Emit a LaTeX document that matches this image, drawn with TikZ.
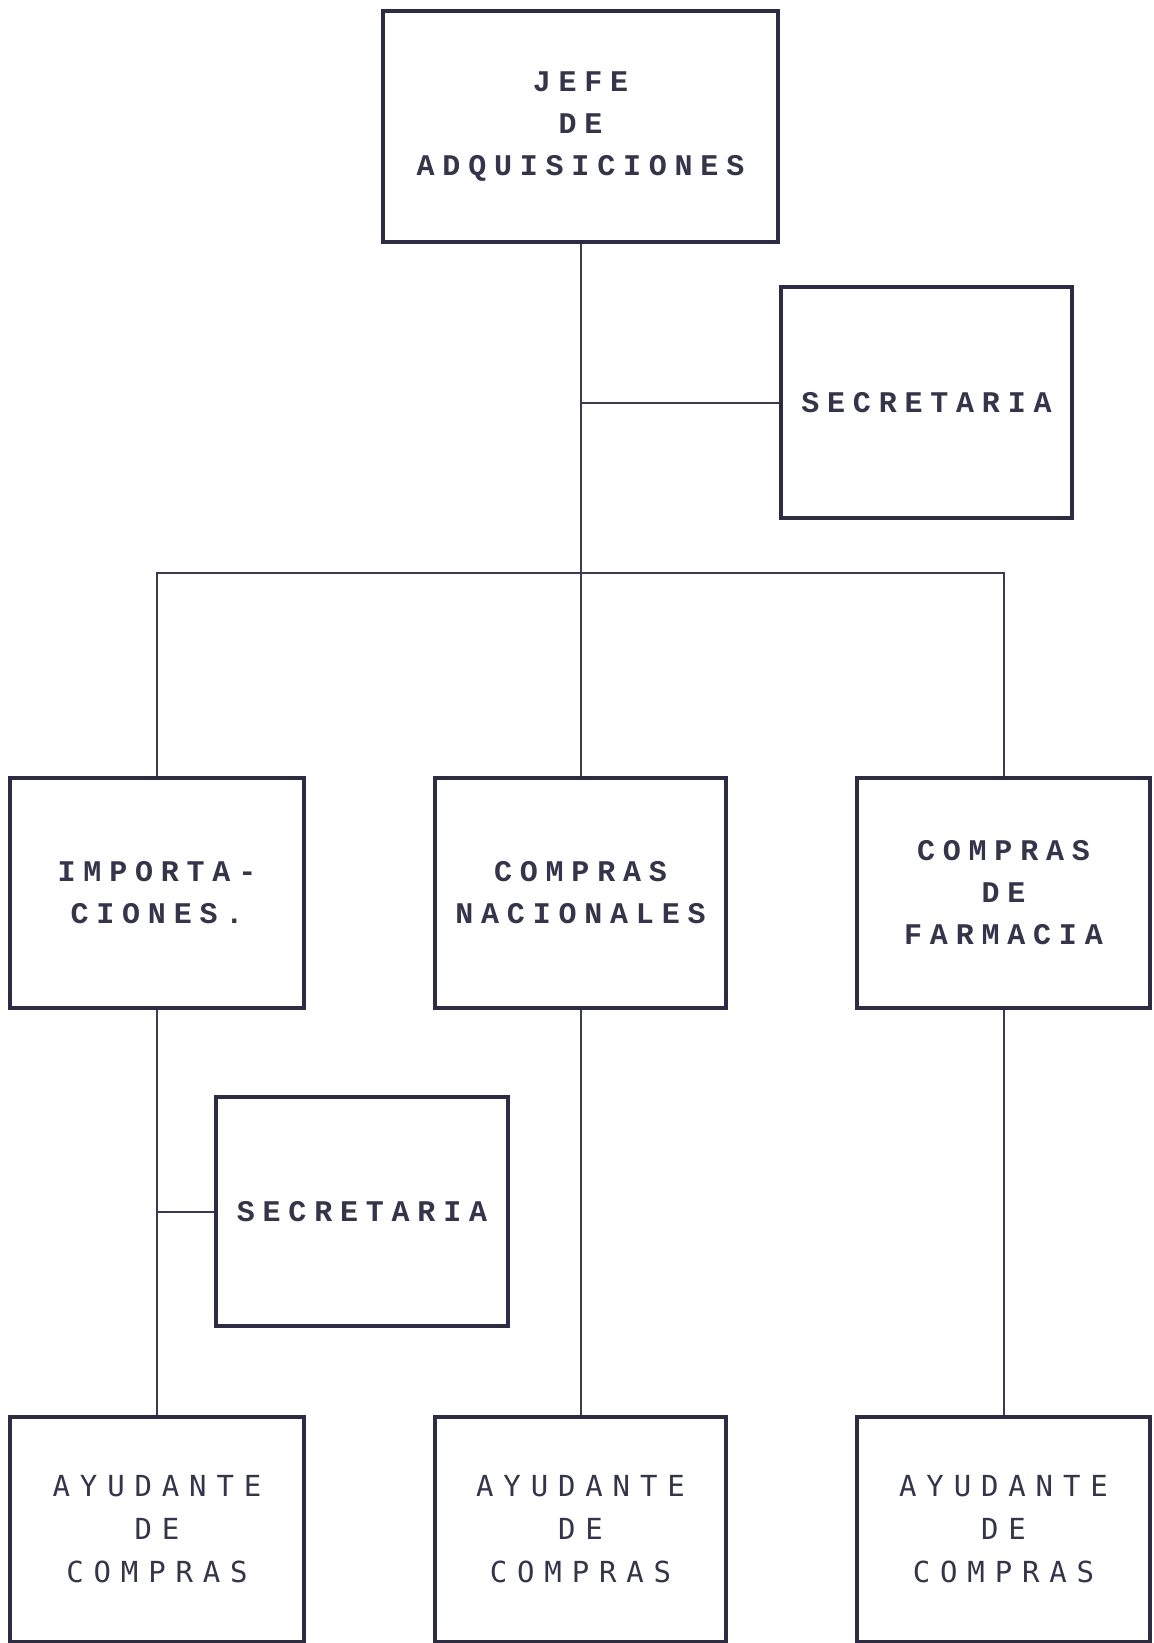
\documentclass[tikz,border=0pt]{standalone}
\usepackage{fontspec}
\newfontfamily\boxfont{Liberation Mono}[LetterSpace=26]
\newfontfamily\aidefont{DejaVu Sans Mono}[LetterSpace=34]
\definecolor{boxcol}{HTML}{2C2C42}
\definecolor{txtcol}{HTML}{34344A}
\definecolor{linecol}{HTML}{3A3A50}
\tikzset{
  orgbox/.style={draw=boxcol, line width=2pt, fill=white, inner sep=0pt,
                 text=txtcol, align=center},
  mainlbl/.style={font=\boxfont\bfseries\fontsize{15}{21}\selectfont},
  aidelbl/.style={font=\aidefont\fontsize{14.5}{21.5}\selectfont},
  link/.style={draw=linecol, line width=1pt},
}
\begin{document}
\begin{tikzpicture}[x=0.5pt,y=-0.5pt]
  \fill[white] (0,0) rectangle (1153,1643);
  \useasboundingbox (0,0) rectangle (1153,1643);

  % head of the department and its secretary
  \node[orgbox, mainlbl, minimum width=197.5pt, minimum height=115pt]
    (jefe) at (580.5,126.5) {JEFE\\DE\\ADQUISICIONES};
  \node[orgbox, mainlbl, minimum width=145.5pt, minimum height=115.5pt]
    (sec1) at (926.5,402.5) {SECRETARIA};

  % sections
  \node[orgbox, mainlbl, minimum width=147pt, minimum height=115pt]
    (imp) at (157,893) {IMPORTA-\\CIONES.};
  \node[orgbox, mainlbl, minimum width=145.5pt, minimum height=115pt]
    (nac) at (580.5,893) {COMPRAS\\NACIONALES};
  \node[orgbox, mainlbl, minimum width=146.5pt, minimum height=115pt]
    (farm) at (1003.5,893) {COMPRAS\\DE\\FARMACIA};

  % secretary of imports
  \node[orgbox, mainlbl, minimum width=146pt, minimum height=114.5pt]
    (sec2) at (362,1211.5) {SECRETARIA};

  % purchasing assistants
  \node[orgbox, aidelbl, minimum width=147pt, minimum height=112.5pt]
    (ayu1) at (157,1529.5) {AYUDANTE\\DE\\COMPRAS};
  \node[orgbox, aidelbl, minimum width=145.5pt, minimum height=112.5pt]
    (ayu2) at (580.5,1529.5) {AYUDANTE\\DE\\COMPRAS};
  \node[orgbox, aidelbl, minimum width=146.5pt, minimum height=112.5pt]
    (ayu3) at (1003.5,1529.5) {AYUDANTE\\DE\\COMPRAS};

  % connectors
  \coordinate (bus) at (580.5,573);
  \draw[link] (jefe.south) -- (nac.north);
  \draw[link] (sec1.west) -- (sec1.west -| jefe.south);
  \draw[link] (imp.north) |- (bus) -| (farm.north);
  \draw[link] (imp.south) -- (ayu1.north);
  \draw[link] (sec2.west) -- (sec2.west -| imp.south);
  \draw[link] (nac.south) -- (ayu2.north);
  \draw[link] (farm.south) -- (ayu3.north);
\end{tikzpicture}
\end{document}
